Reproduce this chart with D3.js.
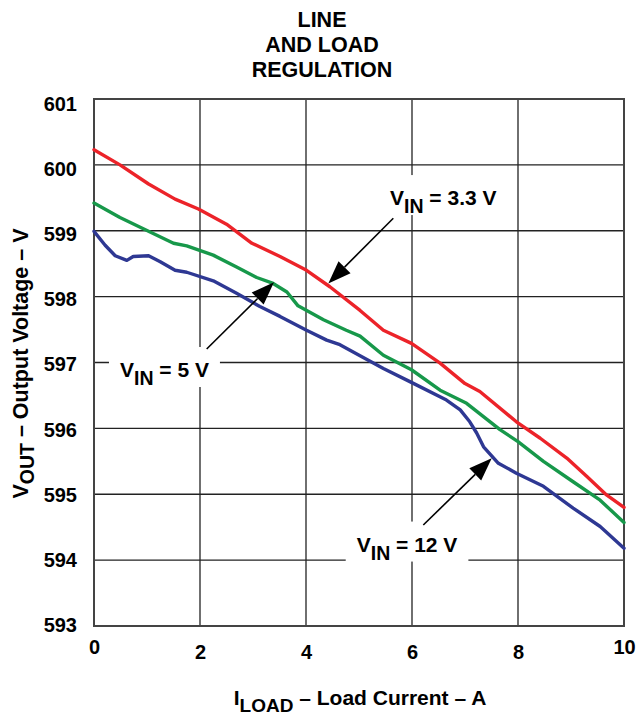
<!DOCTYPE html>
<html>
<head>
<meta charset="utf-8">
<script src="https://cdn.jsdelivr.net/npm/d3@7"></script>
<style>
  html, body { margin: 0; padding: 0; background: #fff; }
  text { font-family: "Liberation Sans", Arial, Helvetica, sans-serif; font-weight: bold; fill: #000; }
</style>
</head>
<body>
<svg id="chart" width="636" height="717"></svg>
<script>
// ---------- data ----------
const titleLines = ["LINE", "AND LOAD", "REGULATION"];
const xTicks = [0, 2, 4, 6, 8, 10];
const yTicks = [593, 594, 595, 596, 597, 598, 599, 600, 601];

const redX = [0, 0.49, 1.03, 1.53, 1.97, 2.50, 2.98, 3.51, 4.01, 4.45, 5.02, 5.46, 5.99, 6.53, 7.0, 7.28, 7.97, 8.42, 8.92, 9.30, 9.67, 10];
const redY = [600.23, 600.0, 599.71, 599.48, 599.33, 599.10, 598.81, 598.61, 598.40, 598.15, 597.79, 597.49, 597.29, 596.99, 596.68, 596.56, 596.10, 595.85, 595.55, 595.27, 594.99, 594.80];

const greenX = [0, 0.49, 0.96, 1.50, 1.75, 2.25, 2.69, 3.07, 3.38, 3.64, 3.85, 4.33, 4.76, 5.02, 5.46, 5.99, 6.53, 7.03, 7.66, 8.0, 8.48, 9.04, 9.55, 10];
const greenY = [599.42, 599.20, 599.02, 598.81, 598.77, 598.63, 598.45, 598.29, 598.20, 598.07, 597.86, 597.65, 597.49, 597.40, 597.11, 596.89, 596.58, 596.38, 595.98, 595.80, 595.50, 595.19, 594.91, 594.57];

const blueX = [0, 0.21, 0.40, 0.62, 0.74, 1.03, 1.25, 1.53, 1.75, 2.25, 2.69, 3.13, 3.51, 4.01, 4.39, 4.64, 5.46, 5.96, 6.65, 6.91, 7.09, 7.22, 7.35, 7.63, 7.97, 8.48, 9.04, 9.55, 10];
const blueY = [598.99, 598.78, 598.62, 598.55, 598.61, 598.62, 598.53, 598.40, 598.37, 598.24, 598.05, 597.85, 597.70, 597.49, 597.34, 597.27, 596.91, 596.71, 596.43, 596.28, 596.10, 595.93, 595.72, 595.47, 595.32, 595.12, 594.79, 594.51, 594.18];

const seriesNames = ["VIN = 3.3 V", "VIN = 5 V", "VIN = 12 V"];
const seriesColors = ["#ec2329", "#17984a", "#2e3893"];

// annotation labels: [main, sub, rest], text anchor (data units), arrow start & tip (data units)
const annoText = [["V", "IN", " = 3.3 V"], ["V", "IN", " = 5 V"], ["V", "IN", " = 12 V"]];
const annoPos = [[5.585, 599.39], [0.49, 596.78], [4.957, 594.13]];
const arrowFrom = [[5.647, 599.19], [2.126, 597.205], [6.213, 594.533]];
const arrowTo = [[4.421, 598.20], [3.396, 598.217], [7.504, 595.546]];

// ---------- layout ----------
const svg = d3.select("#chart");
const x = d3.scaleLinear().domain([0, 10]).range([94, 624]);
const y = d3.scaleLinear().domain([593, 601]).range([626, 99]);
const yLab = d3.scaleLinear().domain([593, 601]).range([625, 104]);

// title
svg.append("text")
  .attr("text-anchor", "middle")
  .style("font-size", "21.5px")
  .selectAll("tspan").data(titleLines).join("tspan")
  .attr("x", 322)
  .attr("y", (d, i) => 27 + i * 25)
  .text(d => d);

// gridlines
const grid = svg.append("g");
grid.selectAll("line.h").data(yTicks).join("line")
  .attr("x1", x(0)).attr("x2", x(10))
  .attr("y1", d => y(d)).attr("y2", d => y(d))
  .attr("stroke", "#222").attr("stroke-width", 1.3);
grid.selectAll("line.v").data(xTicks).join("line")
  .attr("y1", y(593)).attr("y2", y(601))
  .attr("x1", d => x(d)).attr("x2", d => x(d))
  .attr("stroke", "#222").attr("stroke-width", 1.3);

// border
svg.append("rect")
  .attr("x", x(0)).attr("y", y(601))
  .attr("width", x(10) - x(0)).attr("height", y(593) - y(601))
  .attr("fill", "none").attr("stroke", "#444").attr("stroke-width", 2);

// y tick labels
const yAxis = svg.append("g").attr("transform", `translate(${x(0)},0)`)
  .call(d3.axisLeft(yLab).tickValues(yTicks).tickSize(0).tickPadding(17).tickFormat(d3.format("d")));
yAxis.select(".domain").remove();
yAxis.selectAll("text").style("font-size", "20px")
  .style("font-family", "'Liberation Sans', Arial, sans-serif").style("font-weight", "bold").attr("fill", "#000");

// x tick labels
const xAxis = svg.append("g").attr("transform", `translate(0,${y(593)})`)
  .call(d3.axisBottom(x).tickValues(xTicks).tickSize(0).tickFormat(d3.format("d")));
xAxis.select(".domain").remove();
xAxis.selectAll("text").style("font-size", "20px")
  .style("font-family", "'Liberation Sans', Arial, sans-serif").style("font-weight", "bold").attr("fill", "#000")
  .attr("y", d => (d === 0 || d === 10) ? 14 : 19);

// axis titles
const xt = svg.append("text").attr("x", 360).attr("y", 705).attr("text-anchor", "middle").style("font-size", "21px");
xt.append("tspan").text("I");
xt.append("tspan").attr("dy", 7).style("font-size", "19px").text("LOAD");
xt.append("tspan").attr("dy", -7).text(" \u2013 Load Current \u2013 A");

const yt = svg.append("text").attr("transform", "translate(28,363.5) rotate(-90)")
  .attr("text-anchor", "middle").style("font-size", "21.5px");
yt.append("tspan").text("V");
yt.append("tspan").attr("dy", 6).style("font-size", "19.5px").text("OUT");
yt.append("tspan").attr("dy", -6).text(" \u2013 Output Voltage \u2013 V");

// annotation boxes + labels
const annoG = svg.append("g");
annoText.forEach((parts, i) => {
  const g = annoG.append("g");
  const rect = g.append("rect").attr("fill", "#fff");
  const t = g.append("text")
    .attr("x", x(annoPos[i][0])).attr("y", y(annoPos[i][1]))
    .style("font-size", "21px");
  t.append("tspan").text(parts[0]);
  t.append("tspan").attr("dy", 8).style("font-size", "19.5px").text(parts[1]);
  t.append("tspan").attr("dy", -8).text(parts[2]);
  const bb = t.node().getBBox();
  const by = y(annoPos[i][1]);
  rect.attr("x", bb.x - 11).attr("width", bb.width + 22)
    .attr("y", by - 30).attr("height", 40);
});

// series lines
const line = d3.line().x(d => x(d[0])).y(d => y(d[1]));
const series = [d3.zip(redX, redY), d3.zip(greenX, greenY), d3.zip(blueX, blueY)];
svg.append("g").selectAll("path").data(series).join("path")
  .attr("d", line)
  .attr("fill", "none")
  .attr("stroke", (d, i) => seriesColors[i])
  .attr("stroke-width", 3.4)
  .attr("stroke-linejoin", "round")
  .attr("stroke-linecap", "round");

// arrows
const arrowG = svg.append("g");
arrowFrom.forEach((f, i) => {
  const x0 = x(f[0]), y0 = y(f[1]);
  const x1 = x(arrowTo[i][0]), y1 = y(arrowTo[i][1]);
  const dx = x1 - x0, dy = y1 - y0, L = Math.hypot(dx, dy);
  const ux = dx / L, uy = dy / L;
  const headLen = 23, headHalf = 8.5;
  const bx = x1 - ux * headLen, by = y1 - uy * headLen;
  arrowG.append("line")
    .attr("x1", x0).attr("y1", y0).attr("x2", bx).attr("y2", by)
    .attr("stroke", "#000").attr("stroke-width", 1.6);
  arrowG.append("path")
    .attr("d", `M${x1},${y1}L${bx - uy * headHalf},${by + ux * headHalf}L${bx + uy * headHalf},${by - ux * headHalf}Z`)
    .attr("fill", "#000");
});
</script>
</body>
</html>
